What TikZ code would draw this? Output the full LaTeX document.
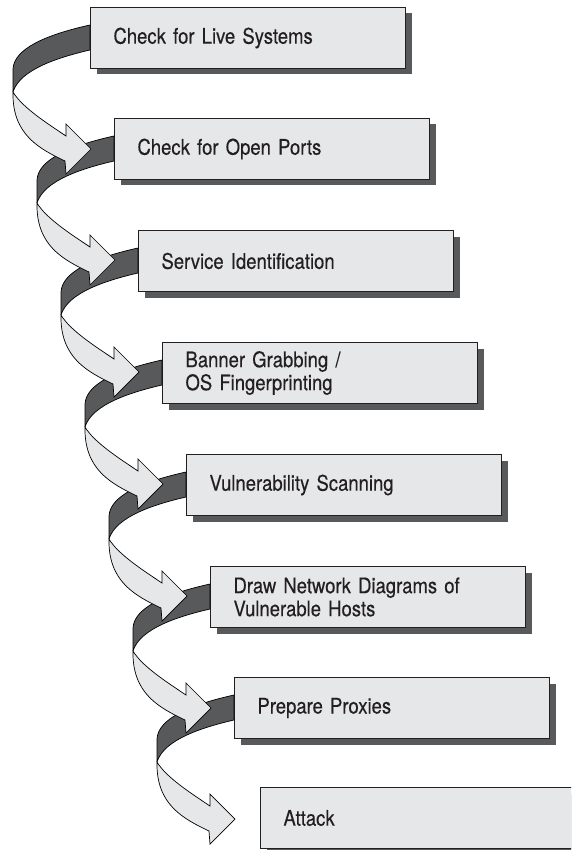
\documentclass[tikz,border=0pt]{standalone}
\usepackage{fontspec}
\setmainfont{TeX Gyre Heros}[FakeStretch=0.86, FakeBold=0.3]
\usetikzlibrary{shadows}
\definecolor{boxColor}{HTML}{E6E7E8}
\definecolor{shadowColor}{HTML}{58595B}
\definecolor{lineColor}{HTML}{231F20}
\tikzstyle{stepBox} = [draw=lineColor, fill=boxColor, line width=1pt, anchor=north west, text width=269pt, align=left, inner xsep=23pt, inner ysep=0pt, minimum height=61pt, text=lineColor, font=\fontsize{21.5}{23}\selectfont, drop shadow={fill=shadowColor, opacity=1, shadow xshift=6pt, shadow yshift=-6pt}]
\tikzstyle{ribbonBackStyle} = [draw=black, fill=shadowColor, line width=.7pt, line join=round]
\tikzstyle{ribbonFrontStyle} = [draw=black, fill=boxColor, line width=.7pt, line join=miter]
\newcommand{\stepNode}[4]{\node [stepBox] (#1) at (#2,#3) {#4};}
\newcommand{\ribbonBack}[1]{
  \begin{scope}[shift={(#1.north west)}]
    \filldraw [ribbonBackStyle] (0,18) .. controls (-45,28) and (-76,42) .. (-77,62) -- (-77,85) .. controls (-70,62) and (-30,50) .. (0,43) -- cycle;
  \end{scope}
}
\newcommand{\ribbonFront}[1]{
  \begin{scope}[shift={(#1.north west)}]
    \filldraw [ribbonFrontStyle] (-77,85) .. controls (-78,128) and (-50,142) .. (-25,154) -- (-24,167) -- (1,142) -- (-24,117) -- (-24,129) .. controls (-45,115) and (-68,100) .. (-77,85) -- cycle;
  \end{scope}
}

\begin{document}
\begin{tikzpicture}[x=1pt, y=-1pt]
  \useasboundingbox (0,0) rectangle (571,850);
  \clip (0,0) rectangle (571,850);
  % boxes
  \stepNode{live}{90}{7}{Check for Live Systems}
  \stepNode{ports}{114}{118}{Check for Open Ports}
  \stepNode{service}{138}{230}{Service Identification}
  \stepNode{banner}{162}{342}{Banner Grabbing /\\OS Fingerprinting}
  \stepNode{vuln}{186}{454}{Vulnerability Scanning}
  \stepNode{diagram}{210}{566}{Draw Network Diagrams of\\Vulnerable Hosts}
  \stepNode{proxy}{234}{677}{Prepare Proxies}
  \stepNode{attack}{260}{787}{Attack}
  % ribbons
  \foreach \stepName in {live,ports,service,banner,vuln,diagram,proxy} {
    \ribbonBack{\stepName}
  }
  \foreach \stepName in {live,ports,service,banner,vuln,diagram,proxy} {
    \ribbonFront{\stepName}
  }
\end{tikzpicture}
\end{document}
